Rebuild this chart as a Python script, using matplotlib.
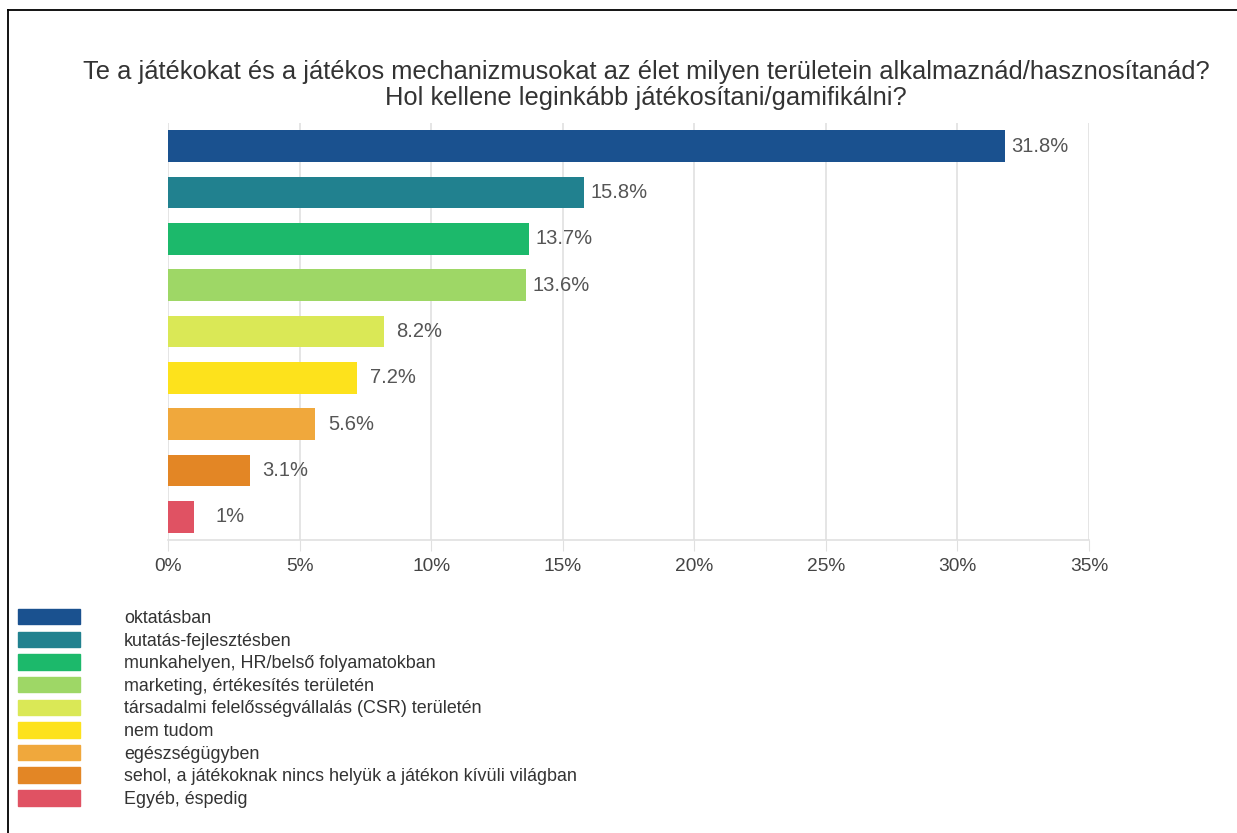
import matplotlib.pyplot as plt
from matplotlib.patches import Patch
from matplotlib.lines import Line2D

plt.rcParams['font.family'] = ['Liberation Sans', 'DejaVu Sans']

categories = ['oktatásban', 'kutatás-fejlesztésben', 'munkahelyen, HR/belső folyamatokban',
              'marketing, értékesítés területén', 'társadalmi felelősségvállalás (CSR) területén',
              'nem tudom', 'egészségügyben', 'sehol, a játékoknak nincs helyük a játékon kívüli világban',
              'Egyéb, éspedig']
values = [31.8, 15.8, 13.7, 13.6, 8.2, 7.2, 5.6, 3.1, 1]
value_labels = ['31.8%', '15.8%', '13.7%', '13.6%', '8.2%', '7.2%', '5.6%', '3.1%', '1%']
colors = ['#1A518F', '#21818F', '#1CB96B', '#9ED766', '#DAE856',
          '#FDE21C', '#F0A83C', '#E38625', '#E05263']
xticks = [0, 5, 10, 15, 20, 25, 30, 35]
xtick_labels = ['0%', '5%', '10%', '15%', '20%', '25%', '30%', '35%']

W, H = 1237, 833
fig = plt.figure(figsize=(W / 100, H / 100), dpi=100)
ax = fig.add_axes([168 / W, 1 - 540 / H, (1089 - 168) / W, (540 - 123) / H])

pos = list(range(len(values)))
ax.barh(pos, values, height=0.69, color=colors, zorder=2)
for p, v, lab in zip(pos, values, value_labels):
    ax.annotate(lab, (v, p), xytext=(25.5, 0), textcoords='offset points',
                ha='center', va='center', fontsize=14.5, color='#555555')

ax.set_xlim(0, 35)
ax.set_ylim(len(values) - 0.5, -0.5)
ax.set_xticks(xticks)
ax.set_xticklabels(xtick_labels, fontsize=13.8, color='#444444')
ax.set_yticks([])
ax.tick_params(axis='x', length=8, color='#e0e0e0', pad=5)
ax.grid(axis='x', color='#e0e0e0', linewidth=1.2, zorder=0)
for s in ['top', 'right', 'left']:
    ax.spines[s].set_visible(False)
ax.spines['bottom'].set_color('#e0e0e0')
ax.spines['bottom'].set_linewidth(1.2)

fig.text(646 / W, 1 - 72 / H, 'Te a játékokat és a játékos mechanizmusokat az élet milyen területein alkalmaznád/hasznosítanád?',
         ha='center', va='center', fontsize=18.4, color='#333333')
fig.text(646 / W, 1 - 98 / H, 'Hol kellene leginkább játékosítani/gamifikálni?',
         ha='center', va='center', fontsize=18.4, color='#333333')

handles = [Patch(facecolor=c, edgecolor=c) for c in colors]
fig.legend(handles, categories, loc='upper left', bbox_to_anchor=(18 / W, 1 - 609 / H),
           frameon=False, fontsize=12.9, handlelength=3.46, handleheight=0.95,
           handletextpad=2.46, labelspacing=0.265, borderaxespad=0, borderpad=0,
           labelcolor='#333333')

fig.add_artist(Line2D([8 / W, 1], [1 - 10 / H, 1 - 10 / H], color='black', linewidth=1.3))
fig.add_artist(Line2D([8 / W, 8 / W], [1 - 10 / H, 0], color='black', linewidth=1.3))

fig.savefig('out.png', dpi=100)
